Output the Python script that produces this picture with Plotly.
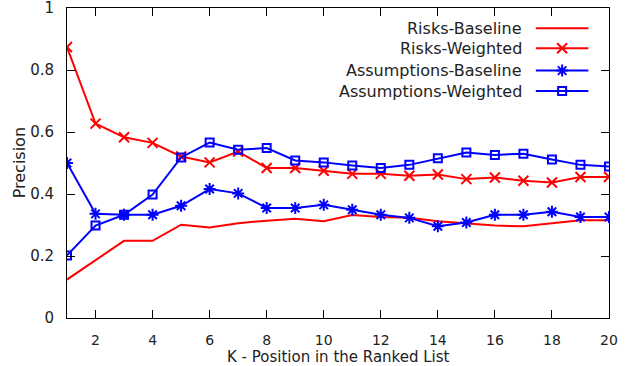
import plotly.graph_objects as go

k = list(range(1, 21))
risks_baseline = [0.124, 0.187, 0.249, 0.249, 0.301, 0.292, 0.306, 0.314, 0.320, 0.312,
                  0.332, 0.326, 0.323, 0.312, 0.306, 0.298, 0.296, 0.306, 0.315, 0.315]
risks_weighted = [0.874, 0.627, 0.583, 0.565, 0.521, 0.502, 0.537, 0.484, 0.484, 0.475,
                  0.465, 0.465, 0.459, 0.463, 0.448, 0.453, 0.443, 0.437, 0.455, 0.455]
assum_baseline = [0.500, 0.336, 0.333, 0.333, 0.362, 0.416, 0.402, 0.355, 0.355, 0.365,
                  0.349, 0.333, 0.323, 0.296, 0.308, 0.333, 0.333, 0.343, 0.326, 0.326]
assum_weighted = [0.202, 0.298, 0.333, 0.398, 0.518, 0.566, 0.543, 0.548, 0.508, 0.502,
                  0.492, 0.484, 0.494, 0.515, 0.534, 0.526, 0.530, 0.511, 0.494, 0.489]

series_names = ["Risks-Baseline", "Risks-Weighted", "Assumptions-Baseline", "Assumptions-Weighted"]
series_vals = [risks_baseline, risks_weighted, assum_baseline, assum_weighted]
x_ticks = list(range(2, 21, 2))
y_ticks = [0, 0.2, 0.4, 0.6, 0.8, 1]
x_title = "K - Position in the Ranked List"
y_title = "Precision"

colors = ["#ff0000", "#ff0000", "#0000ff", "#0000ff"]
symbols = [None, "x-thin-open", "asterisk-open", "square-open"]
sizes = [0, 10, 10, 8]

FONT = "DejaVu Sans"
FS = 16
TFS = 15
TXT = "#222222"

fig = go.Figure()
for name, vals, c, s, sz in zip(series_names, series_vals, colors, symbols, sizes):
    if s is None:
        fig.add_trace(go.Scatter(x=k, y=vals, mode="lines", name=name,
                                 line=dict(color=c, width=2), showlegend=False))
    else:
        fig.add_trace(go.Scatter(x=k, y=vals, mode="lines+markers", name=name,
                                 line=dict(color=c, width=2),
                                 marker=dict(symbol=s, size=sz, color=c,
                                             line=dict(color=c, width=2)),
                                 showlegend=False))

# custom legend (text left, sample right) on overlay axes
leg_y = [0.935, 0.870, 0.798, 0.732]
for i, (name, c, s, sz) in enumerate(zip(series_names, colors, symbols, sizes)):
    y = leg_y[i]
    fig.add_trace(go.Scatter(x=[0.865, 0.962], y=[y, y], mode="lines",
                             line=dict(color=c, width=2), xaxis="x2", yaxis="y2",
                             showlegend=False, hoverinfo="skip"))
    if s is not None:
        fig.add_trace(go.Scatter(x=[0.9135], y=[y], mode="markers",
                                 marker=dict(symbol=s, size=sz, color=c,
                                             line=dict(color=c, width=2)),
                                 xaxis="x2", yaxis="y2", showlegend=False, hoverinfo="skip"))
    fig.add_annotation(x=0.843, y=y, xref="x2", yref="y2", text=name, showarrow=False,
                       xanchor="right", yanchor="middle",
                       font=dict(family=FONT, size=FS, color=TXT))

# axis titles
fig.add_annotation(x=0.5, y=-0.127, xref="paper", yref="paper", text=x_title,
                   showarrow=False, xanchor="center", yanchor="middle",
                   font=dict(family=FONT, size=15, color=TXT))
fig.add_annotation(x=-0.0886, y=0.502, xref="paper", yref="paper", text=y_title,
                   showarrow=False, xanchor="center", yanchor="middle", textangle=-90,
                   font=dict(family=FONT, size=FS, color=TXT))

axis_common = dict(ticks="inside", ticklen=8, tickcolor="black", showline=True,
                   linecolor="black", linewidth=1, mirror="ticks", showgrid=False,
                   zeroline=False, automargin=False, ticklabeloverflow="allow")

fig.update_layout(
    width=635, height=366,
    margin=dict(l=67, r=26, t=8, b=48),
    paper_bgcolor="white", plot_bgcolor="white",
    font=dict(family=FONT, size=FS, color=TXT),
    xaxis=dict(range=[1, 20], tickvals=x_ticks, ticklabelstandoff=9,
               tickfont=dict(family=FONT, size=14, color=TXT), **axis_common),
    yaxis=dict(range=[0, 1], tickvals=y_ticks, ticklabelstandoff=9,
               tickfont=dict(family=FONT, size=TFS, color=TXT), **axis_common),
    xaxis2=dict(range=[0, 1], overlaying="x", visible=False, fixedrange=True),
    yaxis2=dict(range=[0, 1], overlaying="y", visible=False, fixedrange=True),
)

fig.write_html("out.html", config={"displayModeBar": False},
               post_script="document.body.style.margin='0';")
